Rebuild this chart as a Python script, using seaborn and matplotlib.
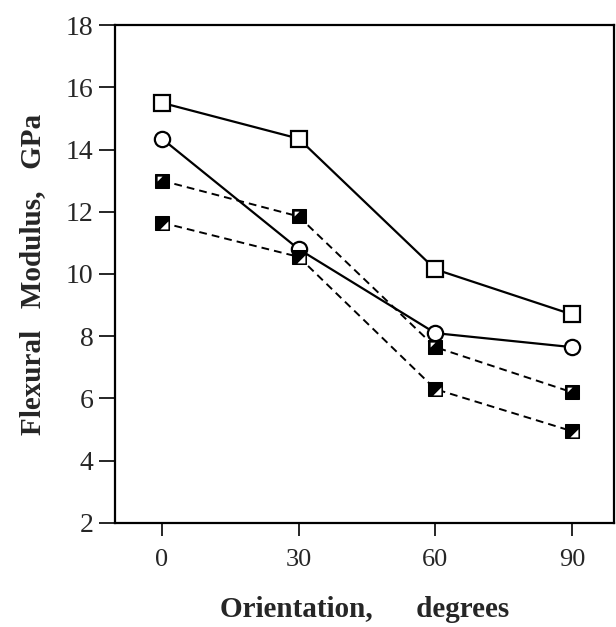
import matplotlib
matplotlib.use("Agg")
import matplotlib.pyplot as plt
import seaborn as sns
import pandas as pd

# values
orientation = [0, 30, 60, 90]
open_square = [15.5, 14.35, 10.15, 8.7]
open_circle = [14.35, 10.8, 8.1, 7.65]
dark_square_a = [13.0, 11.85, 7.65, 6.2]
dark_square_b = [11.65, 10.55, 6.3, 4.95]

y_ticks = [2, 4, 6, 8, 10, 12, 14, 16, 18]
x_ticks = [0, 30, 60, 90]

sns.set_style("white")
plt.rcParams['font.family'] = ['Liberation Serif', 'DejaVu Serif']

df = pd.DataFrame({
    'orientation': orientation,
    'sq': open_square,
    'ci': open_circle,
    'da': dark_square_a,
    'db': dark_square_b,
})

fig = plt.figure(figsize=(6.16, 6.27), dpi=100)
ax = fig.add_axes([0.1867, 0.1659, 0.81, 0.7942])

ms = 11
dash = (0, (4, 2.6))

# solid lines with open markers
sns.lineplot(data=df, x='orientation', y='sq', ax=ax, color='black', lw=1.6,
             marker='s', markersize=ms, markerfacecolor='white',
             markeredgecolor='black', markeredgewidth=1.6)
sns.lineplot(data=df, x='orientation', y='ci', ax=ax, color='black', lw=1.6,
             marker='o', markersize=ms, markerfacecolor='white',
             markeredgecolor='black', markeredgewidth=1.6)

# dashed lines with dark markers
sns.lineplot(data=df, x='orientation', y='da', ax=ax, color='black', lw=1.4,
             linestyle=dash, marker='s', markersize=ms - 0.5,
             markerfacecolor='black', markeredgecolor='black')
sns.lineplot(data=df, x='orientation', y='db', ax=ax, color='black', lw=1.4,
             linestyle=dash, marker='s', markersize=ms - 0.5,
             markerfacecolor='black', markeredgecolor='black')

# white corner patches inside the dark squares
tri_top_left = [(-1, 1), (0.0, 1), (-1, 0.0), (-1, 1)]
tri_low_right = [(1, -1), (1, 0.35), (-0.35, -1), (1, -1)]
ax.plot(df['orientation'], df['da'], linestyle='none', marker=tri_top_left,
        markersize=7, markerfacecolor='white', markeredgewidth=0)
ax.plot(df['orientation'], df['db'], linestyle='none', marker=tri_low_right,
        markersize=8.5, markerfacecolor='white', markeredgewidth=0)

ax.set_xlim(-10.3, 99.2)
ax.set_ylim(2, 18)
ax.set_xticks(x_ticks)
ax.set_yticks(y_ticks)

for s in ax.spines.values():
    s.set_color('black')
    s.set_linewidth(1.6)

ax.tick_params(axis='y', direction='out', length=11.5, width=1.4,
               labelsize=20, pad=4, left=True)
ax.tick_params(axis='x', direction='out', length=9, width=1.4,
               labelsize=19, pad=10, bottom=True)

ax.set_xlabel('Orientation,      degrees', fontsize=21, fontweight='bold',
              labelpad=18)
ax.set_ylabel('Flexural   Modulus,   GPa', fontsize=21, fontweight='bold',
              labelpad=14)

fig.savefig('out.png', dpi=100)
